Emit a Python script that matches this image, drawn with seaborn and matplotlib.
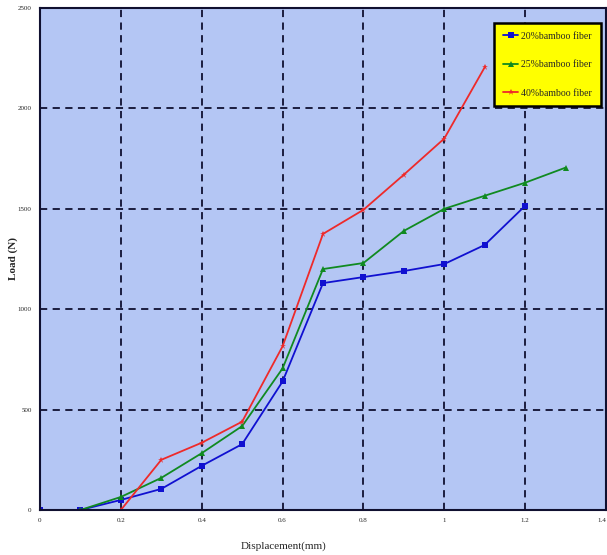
import numpy as np
import pandas as pd
import matplotlib.pyplot as plt
import seaborn as sns

# displacement (mm) and load (N) per fibre content
disp_20 = [0.0, 0.1, 0.2, 0.3, 0.4, 0.5, 0.6, 0.7, 0.8, 0.9, 1.0, 1.1, 1.2]
load_20 = [0, 0, 50, 105, 220, 328, 640, 1130, 1160, 1190, 1225, 1320, 1515]

disp_25 = [0.1, 0.2, 0.3, 0.4, 0.5, 0.6, 0.7, 0.8, 0.9, 1.0, 1.1, 1.2, 1.3]
load_25 = [0, 65, 160, 283, 418, 705, 1200, 1230, 1390, 1500, 1565, 1630, 1705]

disp_40 = [0.0, 0.2, 0.3, 0.4, 0.5, 0.6, 0.7, 0.8, 0.9, 1.0, 1.1]
load_40 = [0, 0, 250, 335, 440, 815, 1375, 1495, 1670, 1850, 2205]

labels = ["20%bamboo fiber", "25%bamboo fiber", "40%bamboo fiber"]
x_ticks = [0, 0.2, 0.4, 0.6, 0.8, 1.0, 1.2, 1.4]
x_tick_labels = ["0", "0.2", "0.4", "0.6", "0.8", "1", "1.2", "1.4"]
y_ticks = [0, 500, 1000, 1500, 2000, 2500]

df = pd.concat([
    pd.DataFrame({"disp": disp_20, "load": load_20, "series": labels[0]}),
    pd.DataFrame({"disp": disp_25, "load": load_25, "series": labels[1]}),
    pd.DataFrame({"disp": disp_40, "load": load_40, "series": labels[2]}),
])

sns.set_style("white")
plt.rcParams["font.family"] = ["Liberation Serif", "DejaVu Serif"]

fig = plt.figure(figsize=(6.07, 5.55), dpi=100)
ax = fig.add_axes([40 / 607, 45 / 555, 566 / 607, 502 / 555])
ax.set_facecolor("#b4c6f4")

palette = {labels[0]: "#1010d0", labels[1]: "#108a20", labels[2]: "#ee2a2a"}
markers = {labels[0]: "s", labels[1]: "^", labels[2]: "*"}
sns.lineplot(data=df, x="disp", y="load", hue="series", style="series",
             palette=palette, markers=markers, dashes=False, sort=False,
             markersize=5, linewidth=1.3, markeredgewidth=0, ax=ax)

ax.set_xlim(0, 1.4)
ax.set_ylim(0, 2500)
ax.set_xticks(x_ticks)
ax.set_xticklabels(x_tick_labels)
ax.get_xticklabels()[-1].set_horizontalalignment("right")
ax.set_yticks(y_ticks)
ax.tick_params(labelsize=5, length=0, pad=6)
ax.grid(True, color="#101030", linestyle=(0, (4, 3)), linewidth=1.3)
for s in ax.spines.values():
    s.set_color("#101030")
    s.set_linewidth(1.5)

ax.set_xlabel("Displacement(mm)", fontsize=8)
ax.xaxis.set_label_coords(0.43, -0.062)
ax.set_ylabel("Load (N)", fontsize=8, fontweight="bold")
ax.yaxis.set_label_coords(-0.038, 0.5)

leg = ax.legend(loc="upper left", bbox_to_anchor=(454 / 566, 487 / 502),
                fontsize=7, frameon=True, fancybox=False, borderpad=0.9,
                handlelength=1.6, handletextpad=0.3, labelspacing=2.0,
                borderaxespad=0)
leg.get_frame().set_facecolor("#ffff00")
leg.get_frame().set_edgecolor("black")
leg.get_frame().set_linewidth(1.8)
leg.get_frame().set_alpha(1)

fig.savefig("out.png", dpi=100)
